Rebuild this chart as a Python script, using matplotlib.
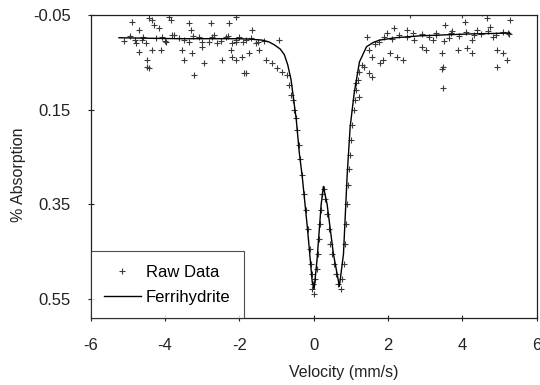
import matplotlib
matplotlib.use("Agg")
import matplotlib.pyplot as plt

# Fitted curve (Ferrihydrite doublet)
fit_vel = [-5.24, -4.5, -3.63, -2.8, -2.01, -1.7, -1.39, -1.2, -1.06, -0.9, -0.79, -0.7,
           -0.61, -0.47, -0.39, -0.31, -0.17, -0.04, 0.01, 0.09, 0.20, 0.26, 0.36, 0.53,
           0.69, 0.80, 0.90, 0.98, 1.09, 1.23, 1.42, 1.6, 1.77, 2.2, 2.85, 3.5, 4.19, 4.8, 5.27]
fit_abs = [-0.002, -0.001, 0.0, 0.0, 0.0, 0.001, 0.003, 0.007, 0.013, 0.022, 0.034, 0.055,
           0.087, 0.171, 0.240, 0.291, 0.400, 0.514, 0.529, 0.466, 0.350, 0.312, 0.350, 0.455,
           0.523, 0.455, 0.287, 0.186, 0.114, 0.049, 0.017, 0.008, 0.003, -0.002, -0.006, -0.008, -0.010, -0.011, -0.012]

# Raw data, left wing
left_vel = [-4.89, -4.71, -4.62, -4.79, -4.71, -4.49, -4.44, -4.35, -4.30, -4.17, -4.09, -3.98,
            -4.35, -4.11, -3.84, -3.82, -3.63, -3.55, -3.49, -3.36, -3.30, -3.36, -3.28, -3.22,
            -3.09, -3.01, -2.95, -2.82, -2.76, -2.68, -2.60, -2.47, -2.36, -2.28, -2.22, -2.20,
            -2.09, -4.44, -3.90, -2.09, -1.82, -4.49,
            -2.20, -2.01, -1.82, -1.66, -1.55, -1.74, -1.93, -1.47, -1.28, -1.12, -0.93, -0.98,
            -0.85, -1.87, -2.09,
            -5.1, -4.95, -4.8, -4.6, -4.5, -4.25, -4.0, -3.75, -3.5, -3.25, -3.0, -2.75, -2.5,
            -2.3, -2.1, -1.9, -1.7, -1.5, -1.35]
left_abs = [-0.035, -0.018, 0.003, 0.009, 0.028, 0.045, 0.062, -0.039, -0.029, -0.023, -0.004, 0.007,
            0.024, 0.024, -0.039, -0.008, -0.002, 0.024, 0.045, -0.033, -0.018, 0.007, 0.030, 0.076,
            -0.004, 0.017, 0.051, 0.007, -0.033, -0.008, 0.009, 0.045, -0.004, -0.033, 0.024, 0.038,
            0.007, -0.044, -0.046, -0.046, 0.072, 0.059,
            0.009, -0.004, 0.003, -0.018, 0.009, 0.030, 0.038, 0.024, 0.045, 0.051, 0.003, 0.062,
            0.070, 0.072, 0.045,
            0.004, -0.006, 0.002, -0.004, 0.010, -0.002, 0.005, -0.008, 0.003, -0.005, 0.008, -0.003, 0.004,
            -0.006, 0.002, 0.006, -0.002, 0.008, 0.004]

# Raw data, the doublet
dip_vel = [-0.71, -0.66, -0.61, -0.55, -0.53, -0.47, -0.44, -0.39, -0.36, -0.31, -0.26, -0.20,
           -0.15, -0.09, -0.07, -0.04, -0.01, 0.01, 0.04, -0.04,
           0.09, 0.12, 0.15, 0.18, 0.20, 0.23, 0.28, 0.31, 0.36, 0.42, 0.45, 0.50, 0.55, 0.61,
           0.66, 0.72, 0.77, 0.82, 0.85, 0.88, 0.90, 0.93, 0.96, 0.98, 1.01, 1.04, 1.07, 1.12,
           1.15, 1.20, 1.23, 1.31]
dip_abs = [0.076, 0.097, 0.118, 0.129, 0.150, 0.167, 0.192, 0.224, 0.255, 0.287, 0.329, 0.361,
           0.403, 0.445, 0.476, 0.497, 0.518, 0.539, 0.508, 0.529,
           0.487, 0.455, 0.424, 0.392, 0.361, 0.329, 0.318, 0.339, 0.371, 0.403, 0.434, 0.455, 0.476, 0.497,
           0.518, 0.529, 0.508, 0.476, 0.434, 0.392, 0.350, 0.308, 0.276, 0.245, 0.213, 0.182, 0.150, 0.129,
           0.108, 0.087, 0.070, 0.055]

# Raw data, right wing
right_vel = [1.42, 1.50, 1.58, 1.36, 1.50, 1.58, 1.15, 1.23, 1.77, 1.85, 1.96, 2.04, 2.23, 2.17,
             2.39, 2.50, 2.66, 2.58, 2.90, 3.03, 3.20, 3.44, 3.47, 3.47, 3.44, 3.52, 3.71, 3.87,
             3.98, 4.06, 4.11, 4.25, 4.38, 4.54, 4.65, 4.73, 4.81, 4.92, 4.92, 5.08, 5.19, 5.27,
             5.22, 4.27, 3.65, 3.30,
             1.9, 2.1, 2.3, 2.5, 2.7, 2.9, 3.1, 3.3, 3.5, 3.7, 3.9, 4.1, 4.3, 4.5, 4.7, 4.9, 5.1,
             5.25, 1.65, 1.75]
right_abs = [-0.004, 0.024, 0.038, 0.059, 0.072, 0.081, 0.093, 0.123, 0.051, 0.045, -0.012, 0.030, 0.038, -0.023,
             0.045, -0.018, -0.012, -0.050, 0.017, 0.024, 0.003, 0.030, 0.059, 0.104, 0.065, -0.029, -0.016, 0.024,
             -0.050, -0.035, 0.019, 0.030, -0.018, -0.054, -0.044, -0.025, -0.004, 0.024, 0.059, 0.030, 0.045, -0.039,
             -0.012, 0.003, -0.002, -0.012,
             -0.004, 0.0, -0.008, -0.004, 0.002, -0.010, -0.004, -0.008, 0.004, -0.012, -0.006, -0.014, -0.008, -0.010,
             -0.016, -0.008, -0.014, -0.010, 0.012, 0.006]

x_ticks = [-6, -4, -2, 0, 2, 4, 6]
y_ticks = [-0.05, 0.15, 0.35, 0.55]

plt.rcParams['font.family'] = ['Liberation Sans', 'DejaVu Sans']

fig = plt.figure(figsize=(5.4, 3.85), dpi=100)
ax = fig.add_axes([0.168, 0.174, 0.826, 0.787])

raw_vel = left_vel + dip_vel + right_vel
raw_abs = left_abs + dip_abs + right_abs
ax.plot(raw_vel, raw_abs, linestyle='none', marker='+', markersize=5, markeredgewidth=0.8,
        color='#3a3a3a', label='Raw Data')
ax.plot(fit_vel, fit_abs, color='black', linewidth=1.0, label='Ferrihydrite')

ax.set_xlim(-6, 6)
ax.set_ylim(0.59, -0.05)
ax.set_xticks(x_ticks)
ax.set_xticklabels([str(t) for t in x_ticks])
ax.set_yticks(y_ticks)
ax.set_yticklabels(['%.2f' % t for t in y_ticks])
ax.tick_params(direction='inout', length=5, width=0.8, labelsize=12, colors='#222222')
ax.tick_params(axis='y', pad=12)
ax.tick_params(axis='x', pad=12)

for s in ax.spines.values():
    s.set_linewidth(0.9)
    s.set_color('#222222')

ax.set_xlabel('Velocity (mm/s)', fontsize=11.5, color='#222222')
ax.set_ylabel('% Absorption', fontsize=11.5, color='#222222')
# label positions in the original are a little off-centre
ax.xaxis.set_label_coords(0.567, -0.155)
ax.yaxis.set_label_coords(-0.145, 0.472)

leg = ax.legend(loc='lower left', borderaxespad=0, fontsize=12, frameon=True, fancybox=False,
                handlelength=2.2, handletextpad=0.3, borderpad=0.8, labelspacing=0.6)
leg.get_frame().set_edgecolor('#222222')
leg.get_frame().set_linewidth(0.8)

fig.savefig('out.png', dpi=100)
